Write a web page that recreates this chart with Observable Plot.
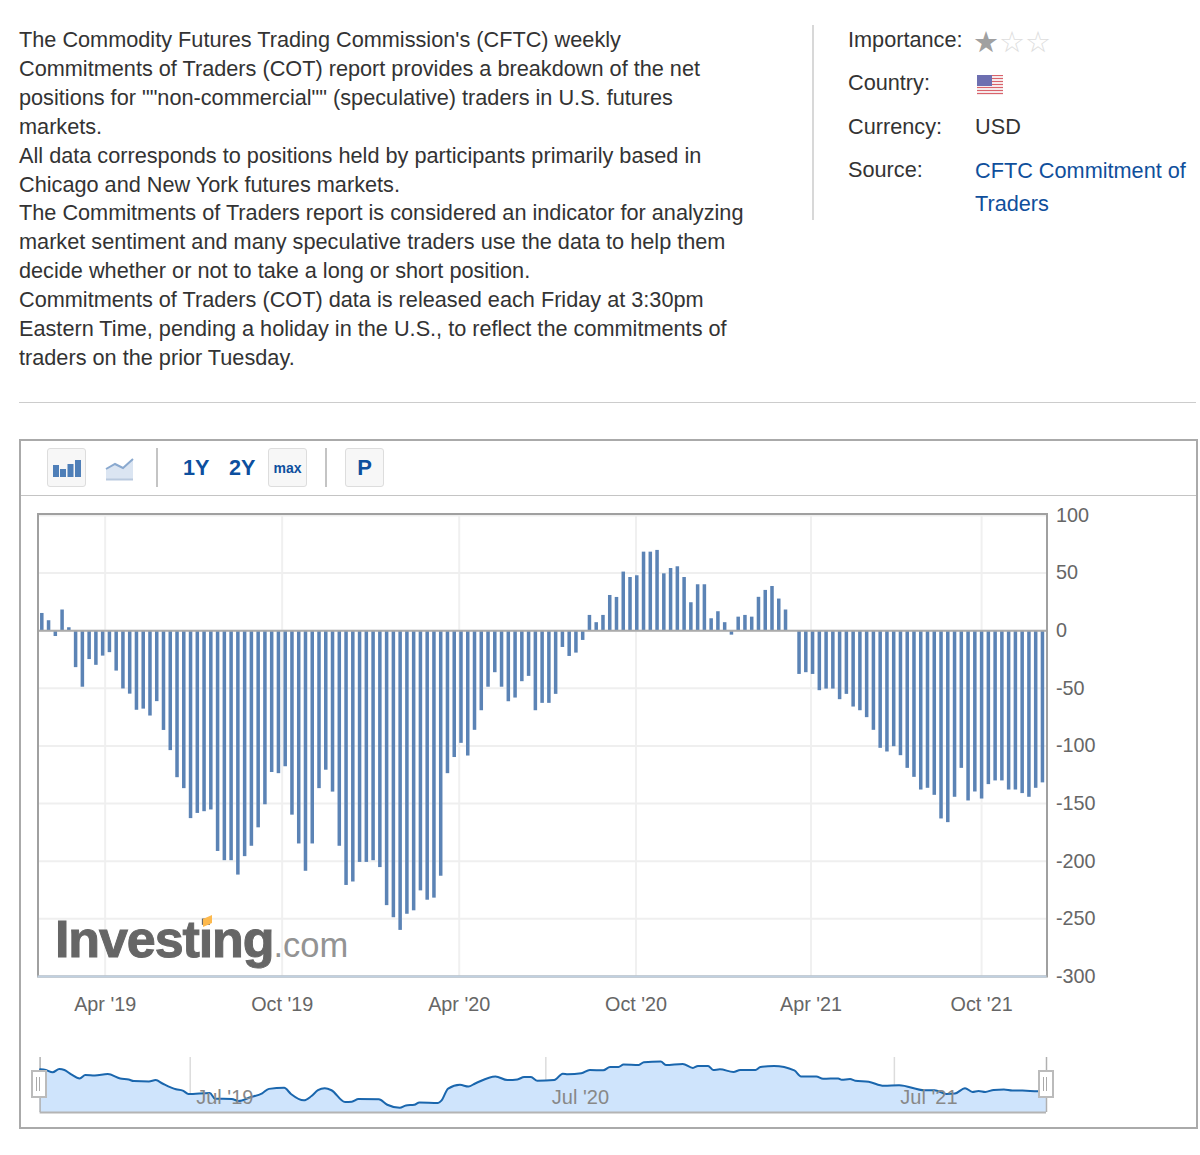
<!DOCTYPE html>
<html><head><meta charset="utf-8">
<script src="https://cdn.jsdelivr.net/npm/d3@7"></script>
<script src="https://cdn.jsdelivr.net/npm/@observablehq/plot@0.6"></script>
<style>
html,body{margin:0;padding:0;background:#fff;}
body{font-family:"Liberation Sans",Arial,sans-serif;color:#333;}
#page{position:relative;width:1200px;height:1155px;overflow:hidden;}
.abs{position:absolute;white-space:nowrap;}
.t{font-size:21.7px;line-height:28.85px;}
.btn{position:absolute;top:448px;width:37px;height:37px;background:#f7f7f7;border:1px solid #ddd;border-radius:3px;display:flex;align-items:center;justify-content:center;color:#0d4f9e;font-weight:bold;}
.rng{position:absolute;top:455px;font-size:21.6px;line-height:26px;font-weight:bold;color:#0d4f9e;}
.sep{position:absolute;top:448px;width:2px;height:39px;background:#c4c4c4;}
.handle{position:absolute;top:1070px;width:12px;height:24px;background:#fff;border:2px solid #bbb;}
.handle:before{content:"";position:absolute;left:3px;top:5px;width:2px;height:14px;border-left:1px solid #aaa;border-right:1px solid #aaa;}
svg{background:transparent;}
</style></head>
<body><div id="page">
<div class="abs t" style="left:19px;top:26.4px;">The Commodity Futures Trading Commission's (CFTC) weekly<br>Commitments of Traders (COT) report provides a breakdown of the net<br>positions for ""non-commercial"" (speculative) traders in U.S. futures<br>markets.<br>All data corresponds to positions held by participants primarily based in<br>Chicago and New York futures markets.<br>The Commitments of Traders report is considered an indicator for analyzing<br>market sentiment and many speculative traders use the data to help them<br>decide whether or not to take a long or short position.<br>Commitments of Traders (COT) data is released each Friday at 3:30pm<br>Eastern Time, pending a holiday in the U.S., to reflect the commitments of<br>traders on the prior Tuesday.</div>
<div class="abs" style="left:812px;top:25px;width:2px;height:195px;background:#d8d8d8;"></div>
<div class="abs t" style="left:848px;top:26px;">Importance:</div>
<div class="abs" style="left:973px;top:25px;font:29px/34px 'DejaVu Sans';color:#a0a0a0;letter-spacing:0;">★<span style="color:#ddd">☆☆</span></div>
<div class="abs t" style="left:848px;top:69px;">Country:</div>
<div class="abs" style="left:977px;top:75px;width:26px;height:20px;background:repeating-linear-gradient(#d9636b 0 1.5px,#f6e9ea 1.5px 3px);"><div style="width:15px;height:11px;background:#6d6fb0;"></div></div>
<div class="abs t" style="left:848px;top:113px;">Currency:</div>
<div class="abs t" style="left:975px;top:113px;">USD</div>
<div class="abs t" style="left:848px;top:156px;">Source:</div>
<div class="abs t" style="left:975px;top:153.500px;color:#0f4f9c;line-height:33px;">CFTC Commitment of<br>Traders</div>
<div class="abs" style="left:19px;top:402px;width:1177px;height:1px;background:#ccc;"></div>

<div class="abs" style="left:19px;top:439px;width:1175px;height:686px;border:2px solid #aaa;"></div>
<div class="abs" style="left:21px;top:495px;width:1175px;height:1px;background:#c4c4c4;"></div>
<div class="btn" style="left:47px;"><svg width="30" height="20" viewBox="0 0 30 20"><g fill="#4f7fb8"><rect x="1" y="7" width="6" height="12"/><rect x="8" y="11" width="6" height="8"/><rect x="15.500" y="6" width="6" height="13"/><rect x="23" y="2" width="6" height="17"/></g></svg></div>
<div class="abs" style="left:105px;top:456px;"><svg width="30" height="26" viewBox="0 0 30 26"><path d="M1 13L10 8L18 12L28 3V24H1Z" fill="#dbe5f2"/><path d="M1 13L10 8L18 12L28 3" fill="none" stroke="#8aa9cf" stroke-width="2"/><path d="M1 23.500H28" stroke="#b9c9de" stroke-width="2"/></svg></div>
<div class="sep" style="left:156px;"></div>
<div class="rng" style="left:183px;">1Y</div>
<div class="rng" style="left:229px;">2Y</div>
<div class="btn" style="left:268px;font-size:14px;">max</div>
<div class="sep" style="left:325px;"></div>
<div class="btn" style="left:345px;font-size:22px;">P</div>

<div id="main" class="abs" style="left:0;top:500px;"></div>
<div id="nav" class="abs" style="left:0;top:1050px;"></div>
<div class="handle" style="left:31px;"></div>
<div class="handle" style="left:1038px;"></div>

<div class="abs" style="left:55px;top:908.500px;font:bold 52px/60px 'Liberation Sans';letter-spacing:-1.1px;color:#666;-webkit-text-stroke:1px #666;">Investing<span style="font:normal 34.500px 'Liberation Sans';letter-spacing:0;color:#939393;-webkit-text-stroke:0;">.com</span></div>
<div class="abs" style="left:203px;top:917px;width:9px;height:8px;background:#fdb94d;transform:skewY(-25deg);"></div>
</div>
<script>
const barValues = [15,8.7,-5,18,2.6,-32,-49,-25,-30,-22,-19,-35,-50.5,-55,-69,-68,-74,-61.5,-86.5,-104,-127.5,-137,-163,-158.5,-157,-155.5,-191.5,-199.5,-199.5,-212,-196,-187,-171,-151,-123,-124,-118,-160,-185,-208.7,-185,-137,-121,-140,-187,-221,-218,-201,-201,-199.5,-205.5,
-238.5,-249,-260,-246,-243,-225.7,-233.8,-232,-213,-124,-110,-97.7,-108.7,-86.4,-69.4,-49,-36.4,-49,-61.6,-58.4,-44.2,-39.6,-69.4,-63,-63,-55.2,-14.5,-22.3,-19.4,-8.4,13.3,7,13.3,30.6,28.9,50.9,46.2,47.7,68.2,68.2,69.7,49.4,54,55.5,46.2,24.3,39.9,39.9,10.4,16.5,
7,-3.8,11.8,13.3,11.8,29,35,38.4,27.5,18,0,-37.9,-36.4,-37.9,-52,-50.6,-50.6,-59.8,-55.2,-66.2,-69.4,-75.4,-86.4,-102,-105.2,-100.6,-108.4,-119.4,-127.2,-138.2,-136.7,-142.8,-163.3,-166.5,-144.5,-119.4,-147.7,-139.9,-146,-133.5,-130.3,-130.3,-138.2,-138.2,-141.3,-144.5,-136.7,-132];
const xTickPositions = [9.3,35.48,61.66,87.82,113.7,138.93];
const xTickLabels = ["Apr '19","Oct '19","Apr '20","Oct '20","Apr '21","Oct '21"];
const yTicks = [100,50,0,-50,-100,-150,-200,-250,-300];
const navPos = [0,17,37,57,72,92,117,134,162,200,237,262,277,322,342,362,402,422,439,502,517,567,587,622,657,677,722,742,780,802,822,842,862,902,922,942,1002,1027,1064,1082,1107,1122,1177,1187,1207,1242,1267,1287,1347,1382,1412,1432,1452,1471,1521,1546,1561,1601,1626,1666,1686,1711,1726,1771,1786,1836,1851,1901,1931,1946,1976,1991,2011,2051,2071,2116,2131,2171,2231,2251,2296,2316,2361,2371,2396,2411,2451,2496,2541,2616,2646,2681,2706,2736,2758,2776,2796,2821,2851,2876,2906,2951,2977];
const navLevel = [128,126,119,129,126,113,101,111,110,114,101,98,93,92,96,86,69,65,55,58,41,40,34,45,57,70,73,55,36,48,66,72,66,31,32,40,39,23,14,21,23,30,28,35,71,82,77,86,107,96,98,105,105,94,96,115,113,116,126,125,135,135,142,141,149,151,141,144,132,138,138,126,128,120,126,126,135,138,125,107,107,100,101,97,99,94,91,79,81,66,66,55,56,72,61,64,61,67,68,65,65,63,63];
const navTickPos = [444,1496,2527];
const navTickLabels = ["Jul '19","Jul '20","Jul '21"];

const font = {fontFamily:"'Liberation Sans',Arial,sans-serif",fontSize:"19.8px",background:"transparent",overflow:"visible"};
const bars = barValues.map((v,i)=>({i,v}));
const barHalf = 0.26;

const main = Plot.plot({
  width:1200,height:520,marginTop:13.5,marginBottom:44,marginLeft:37.5,marginRight:153.500,style:font,
  x:{type:"linear",domain:[-0.636,148.6]},
  y:{domain:[-300,101.3]},
  marks:[
    Plot.gridX(xTickPositions,{stroke:"#f0f0f0",strokeOpacity:1,strokeWidth:2}),
    Plot.gridY(yTicks,{stroke:"#efefef",strokeOpacity:1,strokeWidth:2}),
    Plot.rectY(bars,{x1:d=>d.i-barHalf,x2:d=>d.i+barHalf,y1:0,y2:"v",fill:"#5b83b5",inset:0}),
    Plot.ruleY([0],{stroke:"#ababab",strokeWidth:2}),
    Plot.frame({stroke:"#a0a0a0",strokeWidth:2}),
    Plot.ruleY([-300],{stroke:"#c0d0e0",strokeWidth:2}),
    Plot.axisY(yTicks,{anchor:"right",tickSize:0,tickPadding:9,color:"#666",label:null,tickFormat:d=>String(d)}),
    Plot.axisX(xTickPositions,{anchor:"bottom",tickSize:0,tickPadding:20,color:"#666",label:null,
      tickFormat:d=>xTickLabels[xTickPositions.indexOf(d)]})
  ]
});
document.getElementById("main").appendChild(main);

const navData = navPos.map((p,k)=>({p,l:navLevel[k]}));
const navTicks = navTickPos.map((p,k)=>({p,label:navTickLabels[k]}));
const nav = Plot.plot({
  width:1200,height:70,marginTop:7,marginBottom:8,marginLeft:39.6,marginRight:154,style:font,
  x:{type:"linear",domain:[0,2977],axis:null},
  y:{domain:[0,163],axis:null},
  marks:[
    Plot.ruleX(navTickPos,{stroke:"#dcdcdc",strokeWidth:1.5}),
    Plot.areaY(navData,{x:"p",y:"l",fill:"#cfe4fc",curve:"monotone-x"}),
    Plot.ruleX([0,2977],{stroke:"#b0b0b0",strokeWidth:1.5}),
    Plot.ruleY([0],{stroke:"#b4b4b4",strokeWidth:2}),
    Plot.lineY(navData,{x:"p",y:"l",stroke:"#1a66ad",strokeWidth:2,curve:"monotone-x"}),
    Plot.text(navTicks,{x:"p",y:()=>44,text:"label",dx:6,textAnchor:"start",fill:"#888",fontSize:20})
  ]
});
document.getElementById("nav").appendChild(nav);
</script>
</body></html>
